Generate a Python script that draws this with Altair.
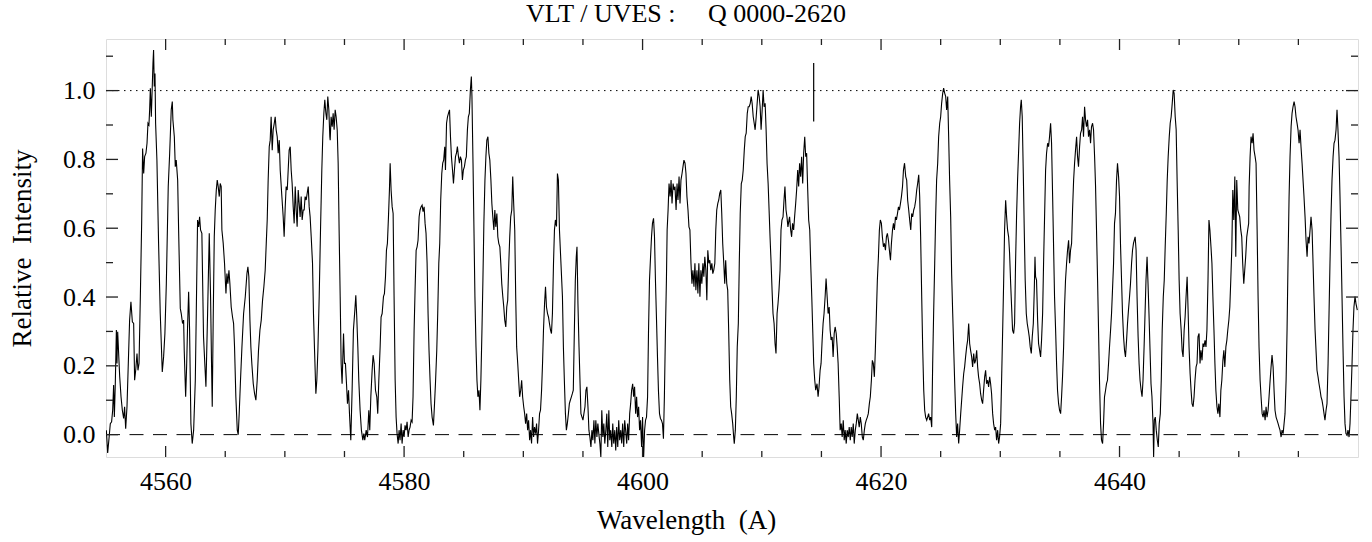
import altair as alt
import pandas as pd

# ---- spectrum: (wavelength [A], relative intensity) ----
seg1 = [(4555.03, 0.013), (4555.14, -0.053), (4555.25, -0.012), (4555.36, 0.032), (4555.47, 0.037),
        (4555.56, 0.071), (4555.64, 0.144), (4555.70, 0.051), (4555.78, 0.148), (4555.87, 0.304),
        (4555.92, 0.207), (4555.98, 0.299), (4556.06, 0.236), (4556.15, 0.168), (4556.26, 0.110),
        (4556.37, 0.071), (4556.48, 0.047), (4556.56, 0.081), (4556.65, 0.017), (4556.76, 0.081),
        (4556.87, 0.207), (4556.98, 0.333), (4557.09, 0.386), (4557.21, 0.328), (4557.32, 0.323),
        (4557.40, 0.158), (4557.49, 0.187), (4557.60, 0.236), (4557.68, 0.187), (4557.77, 0.207),
        (4557.88, 0.401), (4557.99, 0.614), (4558.07, 0.832), (4558.16, 0.759), (4558.24, 0.808),
        (4558.35, 0.818), (4558.44, 0.847), (4558.52, 0.905), (4558.60, 0.900), (4558.66, 0.944),
        (4558.72, 1.007), (4558.80, 0.924), (4558.88, 1.012), (4558.94, 1.080), (4558.99, 1.118),
        (4559.05, 1.012), (4559.11, 1.050), (4559.16, 0.905), (4559.27, 0.798), (4559.41, 0.556),
        (4559.55, 0.352), (4559.72, 0.182), (4559.83, 0.226), (4559.94, 0.294), (4560.06, 0.439),
        (4560.22, 0.721), (4560.34, 0.818), (4560.39, 0.866), (4560.47, 0.944), (4560.56, 0.968),
        (4560.61, 0.915), (4560.73, 0.866), (4560.81, 0.779), (4560.89, 0.798), (4561.01, 0.740),
        (4561.09, 0.595), (4561.23, 0.367), (4561.31, 0.352), (4561.42, 0.323), (4561.51, 0.333),
        (4561.56, 0.245), (4561.68, 0.110), (4561.76, 0.197), (4561.84, 0.313), (4561.93, 0.415),
        (4562.01, 0.304), (4562.12, 0.032), (4562.23, -0.026), (4562.35, 0.013), (4562.49, 0.158),
        (4562.57, 0.352), (4562.68, 0.624), (4562.77, 0.604), (4562.85, 0.633), (4562.93, 0.595),
        (4563.04, 0.585), (4563.18, 0.284), (4563.30, 0.197), (4563.38, 0.139), (4563.52, 0.352),
        (4563.66, 0.585), (4563.77, 0.401), (4563.85, 0.207), (4563.91, 0.081), (4563.99, 0.333),
        (4564.08, 0.575)]

seg2 = [(4564.16, 0.653), (4564.25, 0.711), (4564.33, 0.740), (4564.41, 0.721), (4564.50, 0.692),
        (4564.58, 0.730), (4564.66, 0.721), (4564.72, 0.595), (4564.83, 0.556), (4564.94, 0.498),
        (4565.06, 0.410), (4565.14, 0.468), (4565.22, 0.439), (4565.31, 0.478), (4565.39, 0.439),
        (4565.50, 0.371), (4565.61, 0.342), (4565.70, 0.323), (4565.78, 0.255), (4565.89, 0.110),
        (4566.01, 0.013), (4566.09, 0.000), (4566.17, 0.061), (4566.28, 0.158), (4566.40, 0.255),
        (4566.54, 0.352), (4566.68, 0.401), (4566.82, 0.468), (4566.90, 0.488), (4566.98, 0.459),
        (4567.07, 0.333), (4567.15, 0.255), (4567.23, 0.207), (4567.35, 0.148), (4567.46, 0.119),
        (4567.57, 0.100), (4567.68, 0.158), (4567.79, 0.245), (4567.91, 0.304), (4568.02, 0.333),
        (4568.13, 0.391), (4568.24, 0.430), (4568.35, 0.478), (4568.44, 0.556), (4568.52, 0.624),
        (4568.60, 0.740), (4568.69, 0.837), (4568.77, 0.856), (4568.85, 0.924), (4568.94, 0.827),
        (4569.02, 0.886), (4569.11, 0.905), (4569.19, 0.924), (4569.27, 0.886), (4569.36, 0.866),
        (4569.44, 0.818), (4569.53, 0.856), (4569.61, 0.769), (4569.75, 0.692), (4569.86, 0.633),
        (4569.94, 0.575), (4570.03, 0.662), (4570.11, 0.721), (4570.20, 0.711), (4570.28, 0.769),
        (4570.36, 0.827), (4570.45, 0.837), (4570.53, 0.769), (4570.61, 0.730), (4570.70, 0.662),
        (4570.78, 0.614), (4570.87, 0.721), (4570.95, 0.653), (4571.03, 0.604), (4571.12, 0.711),
        (4571.20, 0.672), (4571.28, 0.633), (4571.37, 0.692), (4571.45, 0.624), (4571.54, 0.653),
        (4571.62, 0.653), (4571.70, 0.692), (4571.79, 0.682), (4571.87, 0.701), (4571.96, 0.721),
        (4572.04, 0.662), (4572.12, 0.633), (4572.21, 0.575), (4572.32, 0.498), (4572.40, 0.352),
        (4572.49, 0.245), (4572.60, 0.119), (4572.68, 0.158), (4572.77, 0.245), (4572.88, 0.401),
        (4572.99, 0.595), (4573.10, 0.769), (4573.18, 0.866), (4573.27, 0.934), (4573.35, 0.973),
        (4573.44, 0.934), (4573.52, 0.915), (4573.60, 0.983), (4573.69, 0.944), (4573.77, 0.866)]

seg3 = [(4573.80, 0.856), (4573.88, 0.924), (4573.97, 0.895), (4574.05, 0.934), (4574.13, 0.886),
        (4574.22, 0.944), (4574.30, 0.924), (4574.39, 0.886), (4574.47, 0.789), (4574.55, 0.595),
        (4574.64, 0.401), (4574.72, 0.207), (4574.80, 0.148), (4574.92, 0.294), (4575.00, 0.207),
        (4575.08, 0.207), (4575.17, 0.148), (4575.25, 0.090), (4575.34, 0.129), (4575.42, 0.061),
        (4575.53, -0.016), (4575.64, 0.129), (4575.75, 0.304), (4575.87, 0.362), (4575.95, 0.405),
        (4576.03, 0.342), (4576.12, 0.255), (4576.20, 0.158), (4576.31, 0.071), (4576.42, 0.013),
        (4576.54, -0.016), (4576.62, 0.003), (4576.70, -0.016), (4576.82, 0.013), (4576.93, -0.007),
        (4577.04, 0.071), (4577.12, 0.013), (4577.21, 0.110), (4577.32, 0.187), (4577.40, 0.231),
        (4577.49, 0.207), (4577.60, 0.129), (4577.71, 0.110), (4577.79, 0.061), (4577.88, 0.158),
        (4577.99, 0.255), (4578.07, 0.342), (4578.16, 0.352), (4578.27, 0.401), (4578.35, 0.410),
        (4578.44, 0.459), (4578.52, 0.536), (4578.60, 0.556), (4578.69, 0.633), (4578.77, 0.711),
        (4578.83, 0.789), (4578.91, 0.711), (4579.00, 0.662), (4579.08, 0.643), (4579.16, 0.401),
        (4579.25, 0.158), (4579.33, 0.051), (4579.41, 0.003), (4579.50, -0.026), (4579.58, 0.013),
        (4579.66, -0.016), (4579.75, 0.032), (4579.83, -0.026), (4579.92, 0.013), (4580.00, -0.007),
        (4580.08, 0.027), (4580.17, 0.013), (4580.25, 0.037), (4580.34, -0.007), (4580.42, 0.013),
        (4580.50, 0.022), (4580.59, 0.042), (4580.67, 0.037), (4580.75, 0.110), (4580.84, 0.304),
        (4580.92, 0.420), (4581.01, 0.536), (4581.09, 0.546), (4581.17, 0.565), (4581.26, 0.633),
        (4581.34, 0.653), (4581.42, 0.662), (4581.51, 0.667), (4581.59, 0.648), (4581.68, 0.662),
        (4581.76, 0.614), (4581.84, 0.585), (4581.93, 0.498), (4582.01, 0.352), (4582.09, 0.245),
        (4582.18, 0.158), (4582.26, 0.090), (4582.35, 0.051), (4582.46, 0.027), (4582.54, 0.081),
        (4582.63, 0.148), (4582.74, 0.245), (4582.82, 0.352), (4582.91, 0.498), (4582.99, 0.556),
        (4583.07, 0.681), (4583.16, 0.759), (4583.24, 0.789), (4583.32, 0.798), (4583.41, 0.837)]

seg4 = [(4583.47, 0.769), (4583.56, 0.905), (4583.64, 0.924), (4583.72, 0.934), (4583.81, 0.944),
        (4583.89, 0.866), (4583.97, 0.808), (4584.06, 0.769), (4584.14, 0.730), (4584.22, 0.769),
        (4584.31, 0.808), (4584.39, 0.818), (4584.47, 0.837), (4584.56, 0.808), (4584.64, 0.789),
        (4584.72, 0.808), (4584.81, 0.798), (4584.89, 0.740), (4584.97, 0.769), (4585.06, 0.779),
        (4585.14, 0.798), (4585.22, 0.808), (4585.31, 0.886), (4585.39, 0.924), (4585.47, 0.934),
        (4585.56, 1.002), (4585.64, 1.041), (4585.69, 0.983), (4585.78, 0.789), (4585.86, 0.595),
        (4585.94, 0.401), (4586.03, 0.255), (4586.11, 0.158), (4586.19, 0.110), (4586.28, 0.129),
        (4586.36, 0.071), (4586.44, 0.158), (4586.53, 0.304), (4586.61, 0.449), (4586.69, 0.614),
        (4586.78, 0.740), (4586.86, 0.808), (4586.94, 0.856), (4587.03, 0.866), (4587.11, 0.818),
        (4587.19, 0.798), (4587.28, 0.740), (4587.36, 0.672), (4587.44, 0.633), (4587.53, 0.595),
        (4587.61, 0.653), (4587.69, 0.604), (4587.78, 0.643), (4587.86, 0.575), (4587.94, 0.556),
        (4588.03, 0.546), (4588.11, 0.498), (4588.19, 0.439), (4588.28, 0.401), (4588.36, 0.371),
        (4588.44, 0.333), (4588.53, 0.313), (4588.61, 0.371), (4588.69, 0.391), (4588.78, 0.498),
        (4588.86, 0.575), (4588.94, 0.633), (4589.03, 0.653), (4589.11, 0.750), (4589.19, 0.672),
        (4589.28, 0.595), (4589.36, 0.401), (4589.44, 0.255), (4589.53, 0.207), (4589.61, 0.158),
        (4589.69, 0.110), (4589.78, 0.129), (4589.86, 0.158), (4589.94, 0.110), (4590.03, 0.081),
        (4590.11, 0.061), (4590.19, 0.032), (4590.28, 0.061), (4590.36, 0.013), (4590.44, 0.042),
        (4590.53, -0.016), (4590.61, 0.013), (4590.69, -0.026), (4590.78, 0.051), (4590.86, -0.007),
        (4590.94, 0.022), (4591.03, 0.003), (4591.11, 0.032), (4591.19, -0.026), (4591.28, 0.013),
        (4591.36, 0.061), (4591.44, 0.071), (4591.53, 0.129), (4591.61, 0.207), (4591.69, 0.304),
        (4591.78, 0.381), (4591.86, 0.430), (4591.94, 0.371), (4592.03, 0.352), (4592.11, 0.342),
        (4592.19, 0.323), (4592.28, 0.304), (4592.36, 0.294), (4592.44, 0.352), (4592.53, 0.498),
        (4592.61, 0.595), (4592.69, 0.624), (4592.78, 0.605), (4592.86, 0.759), (4592.94, 0.740),
        (4593.03, 0.595)]

seg5 = [(4593.28, 0.401), (4593.36, 0.255), (4593.44, 0.158), (4593.53, 0.061), (4593.61, 0.013),
        (4593.69, 0.032), (4593.78, 0.061), (4593.86, 0.090), (4593.94, 0.100), (4594.03, 0.110),
        (4594.11, 0.119), (4594.19, 0.129), (4594.28, 0.304), (4594.36, 0.449), (4594.44, 0.517),
        (4594.50, 0.546), (4594.58, 0.381), (4594.67, 0.255), (4594.75, 0.158), (4594.83, 0.061),
        (4594.92, 0.051), (4595.00, 0.042), (4595.08, 0.061), (4595.17, 0.081), (4595.25, 0.129),
        (4595.33, 0.139), (4595.42, 0.081), (4595.50, 0.013), (4595.58, -0.007), (4595.67, -0.036),
        (4595.75, 0.013), (4595.83, -0.016), (4595.92, 0.042), (4596.00, -0.026), (4596.08, 0.042),
        (4596.17, -0.007), (4596.25, 0.032), (4596.33, 0.003), (4596.42, -0.026), (4596.50, -0.065),
        (4596.58, 0.071), (4596.67, -0.007), (4596.75, 0.032), (4596.83, -0.026), (4596.92, 0.013),
        (4597.00, 0.061), (4597.08, -0.036), (4597.17, 0.071), (4597.25, -0.016), (4597.33, 0.013),
        (4597.42, -0.036), (4597.50, 0.032), (4597.58, -0.026), (4597.67, 0.013), (4597.75, -0.046),
        (4597.83, 0.022), (4597.92, -0.036), (4598.00, 0.042), (4598.08, -0.016), (4598.17, 0.013),
        (4598.25, -0.026), (4598.33, 0.032), (4598.42, -0.036), (4598.50, 0.042), (4598.58, 0.013),
        (4598.67, -0.026), (4598.75, 0.032), (4598.83, -0.016), (4598.92, 0.061), (4599.00, 0.090),
        (4599.08, 0.129), (4599.17, 0.148), (4599.25, 0.110), (4599.33, 0.139), (4599.42, 0.061),
        (4599.50, 0.110), (4599.58, 0.051), (4599.67, 0.081), (4599.75, 0.013), (4599.83, 0.042),
        (4599.92, -0.036), (4600.00, 0.051), (4600.08, -0.075), (4600.17, 0.013), (4600.25, 0.042),
        (4600.33, 0.051), (4600.42, 0.110), (4600.50, 0.304), (4600.58, 0.449), (4600.67, 0.517),
        (4600.75, 0.575), (4600.83, 0.614), (4600.92, 0.629), (4601.00, 0.575), (4601.08, 0.449),
        (4601.17, 0.333), (4601.25, 0.226), (4601.33, 0.129), (4601.42, 0.061), (4601.50, 0.047),
        (4601.58, 0.042), (4601.67, 0.032), (4601.75, -0.012), (4601.83, 0.110), (4601.92, 0.304),
        (4602.00, 0.449), (4602.06, 0.595), (4602.14, 0.653), (4602.22, 0.730), (4602.31, 0.692),
        (4602.39, 0.740), (4602.47, 0.672), (4602.56, 0.730), (4602.64, 0.711)]

seg6 = [(4602.72, 0.721), (4602.81, 0.653), (4602.89, 0.730), (4602.97, 0.682), (4603.06, 0.750),
        (4603.14, 0.672), (4603.22, 0.740), (4603.31, 0.759), (4603.39, 0.779), (4603.47, 0.798),
        (4603.56, 0.789), (4603.64, 0.759), (4603.72, 0.692), (4603.81, 0.653), (4603.89, 0.604),
        (4603.97, 0.595), (4604.06, 0.498), (4604.14, 0.439), (4604.22, 0.478), (4604.31, 0.430),
        (4604.39, 0.498), (4604.47, 0.420), (4604.56, 0.478), (4604.64, 0.410), (4604.72, 0.498),
        (4604.81, 0.401), (4604.89, 0.478), (4604.97, 0.439), (4605.06, 0.498), (4605.14, 0.459),
        (4605.22, 0.517), (4605.31, 0.478), (4605.39, 0.391), (4605.47, 0.536), (4605.56, 0.498),
        (4605.64, 0.507), (4605.72, 0.478), (4605.81, 0.498), (4605.89, 0.468), (4605.97, 0.478),
        (4606.06, 0.498), (4606.14, 0.595), (4606.22, 0.653), (4606.31, 0.672), (4606.39, 0.682),
        (4606.47, 0.701), (4606.56, 0.711), (4606.64, 0.643), (4606.72, 0.556), (4606.81, 0.498),
        (4606.89, 0.439), (4606.97, 0.507), (4607.06, 0.439), (4607.14, 0.420), (4607.22, 0.304),
        (4607.31, 0.158), (4607.39, 0.081), (4607.47, 0.061), (4607.56, 0.032), (4607.64, -0.007),
        (4607.69, -0.026), (4607.78, 0.013), (4607.86, 0.110), (4607.94, 0.255), (4608.03, 0.323),
        (4608.11, 0.498), (4608.19, 0.643), (4608.28, 0.730), (4608.36, 0.740), (4608.44, 0.769),
        (4608.53, 0.827), (4608.61, 0.866), (4608.69, 0.876), (4608.78, 0.934), (4608.86, 0.953),
        (4608.94, 0.953), (4609.03, 0.963), (4609.11, 0.983), (4609.19, 0.963), (4609.28, 0.924),
        (4609.36, 0.905), (4609.44, 0.886), (4609.53, 0.924), (4609.61, 0.963), (4609.69, 1.002),
        (4609.78, 0.983), (4609.86, 0.953), (4609.94, 0.886), (4610.03, 0.944), (4610.11, 1.002),
        (4610.19, 0.953), (4610.28, 0.963), (4610.36, 0.886), (4610.44, 0.789), (4610.53, 0.730),
        (4610.61, 0.653), (4610.69, 0.575), (4610.78, 0.498), (4610.86, 0.420), (4610.94, 0.352),
        (4611.03, 0.323), (4611.11, 0.265), (4611.19, 0.236), (4611.28, 0.352), (4611.36, 0.381),
        (4611.44, 0.420), (4611.53, 0.478), (4611.61, 0.595), (4611.69, 0.624), (4611.78, 0.633),
        (4611.86, 0.681), (4611.94, 0.721), (4612.03, 0.653), (4612.11, 0.633), (4612.19, 0.604),
        (4612.28, 0.624)]

seg7 = [(4612.33, 0.633), (4612.42, 0.595), (4612.50, 0.575), (4612.58, 0.614), (4612.67, 0.595),
        (4612.75, 0.633), (4612.84, 0.672), (4612.92, 0.711), (4613.01, 0.769), (4613.09, 0.721),
        (4613.17, 0.789), (4613.26, 0.750), (4613.34, 0.808), (4613.43, 0.730), (4613.51, 0.818),
        (4613.60, 0.866), (4613.68, 0.808), (4613.76, 0.818), (4613.85, 0.711), (4613.93, 0.624),
        (4614.02, 0.595), (4614.10, 0.498), (4614.19, 0.401), (4614.27, 0.304), (4614.35, 0.207),
        (4614.44, 0.158), (4614.52, 0.129), (4614.63, 0.148), (4614.72, 0.110), (4614.80, 0.139),
        (4614.89, 0.187), (4614.97, 0.207), (4615.06, 0.275), (4615.14, 0.323), (4615.22, 0.352),
        (4615.31, 0.401), (4615.39, 0.454), (4615.48, 0.401), (4615.56, 0.352), (4615.65, 0.371),
        (4615.73, 0.304), (4615.81, 0.275), (4615.90, 0.284), (4615.98, 0.226), (4616.07, 0.294),
        (4616.15, 0.313), (4616.24, 0.294), (4616.32, 0.255), (4616.40, 0.207), (4616.49, 0.110),
        (4616.57, 0.013), (4616.66, 0.032), (4616.74, -0.007), (4616.83, 0.042), (4616.91, -0.016),
        (4616.99, 0.013), (4617.08, -0.026), (4617.16, 0.013), (4617.25, -0.007), (4617.33, 0.022),
        (4617.42, -0.016), (4617.50, 0.022), (4617.58, -0.007), (4617.67, 0.032), (4617.75, -0.026),
        (4617.84, 0.013), (4617.92, 0.032), (4618.01, 0.061), (4618.09, 0.042), (4618.17, 0.022),
        (4618.26, 0.051), (4618.34, 0.032), (4618.43, -0.007), (4618.51, -0.016), (4618.60, 0.013),
        (4618.68, 0.032), (4618.76, 0.042), (4618.85, 0.051), (4618.93, 0.061), (4619.02, 0.090),
        (4619.10, 0.110), (4619.19, 0.158), (4619.27, 0.216), (4619.35, 0.207), (4619.44, 0.168),
        (4619.52, 0.245), (4619.61, 0.352), (4619.69, 0.449), (4619.78, 0.517), (4619.86, 0.595),
        (4619.94, 0.624), (4620.03, 0.614), (4620.11, 0.575), (4620.20, 0.546), (4620.28, 0.556),
        (4620.37, 0.536), (4620.45, 0.575), (4620.53, 0.585), (4620.62, 0.565), (4620.70, 0.536),
        (4620.79, 0.507), (4620.87, 0.556), (4620.96, 0.595), (4621.04, 0.614), (4621.12, 0.595),
        (4621.21, 0.633), (4621.29, 0.624), (4621.38, 0.643), (4621.46, 0.662), (4621.54, 0.653),
        (4621.63, 0.672), (4621.71, 0.692), (4621.80, 0.721), (4621.88, 0.769), (4621.97, 0.789)]

seg8 = [(4622.07, 0.750), (4622.15, 0.740), (4622.23, 0.682), (4622.32, 0.653), (4622.40, 0.624),
        (4622.49, 0.595), (4622.57, 0.643), (4622.65, 0.633), (4622.74, 0.653), (4622.82, 0.662),
        (4622.91, 0.682), (4622.99, 0.711), (4623.07, 0.730), (4623.16, 0.755), (4623.24, 0.692),
        (4623.32, 0.575), (4623.41, 0.401), (4623.49, 0.255), (4623.58, 0.129), (4623.66, 0.071),
        (4623.74, 0.051), (4623.83, 0.042), (4623.91, 0.051), (4623.99, 0.061), (4624.08, 0.042),
        (4624.16, 0.051), (4624.25, 0.022), (4624.33, 0.207), (4624.41, 0.352), (4624.50, 0.498),
        (4624.58, 0.633), (4624.66, 0.740), (4624.75, 0.789), (4624.83, 0.866), (4624.92, 0.905),
        (4625.00, 0.924), (4625.08, 0.963), (4625.17, 0.992), (4625.25, 1.007), (4625.34, 0.992),
        (4625.42, 0.983), (4625.50, 0.944), (4625.59, 0.983), (4625.67, 0.866), (4625.75, 0.740),
        (4625.84, 0.633), (4625.92, 0.468), (4626.01, 0.352), (4626.09, 0.255), (4626.17, 0.158),
        (4626.26, 0.061), (4626.34, -0.007), (4626.42, 0.032), (4626.51, -0.026), (4626.59, 0.013),
        (4626.68, 0.061), (4626.76, 0.100), (4626.84, 0.139), (4626.93, 0.177), (4627.01, 0.197),
        (4627.09, 0.226), (4627.18, 0.255), (4627.26, 0.274), (4627.35, 0.323), (4627.43, 0.265),
        (4627.51, 0.245), (4627.60, 0.226), (4627.68, 0.197), (4627.77, 0.236), (4627.85, 0.207),
        (4627.93, 0.216), (4628.02, 0.245), (4628.10, 0.197), (4628.18, 0.168), (4628.27, 0.148),
        (4628.35, 0.119), (4628.44, 0.100), (4628.52, 0.090), (4628.60, 0.129), (4628.69, 0.168),
        (4628.77, 0.187), (4628.85, 0.148), (4628.94, 0.158), (4629.02, 0.139), (4629.11, 0.168),
        (4629.19, 0.148), (4629.27, 0.119), (4629.36, 0.061), (4629.44, 0.032), (4629.53, 0.013),
        (4629.61, 0.022), (4629.69, -0.016), (4629.78, 0.013), (4629.86, -0.026), (4629.94, -0.007),
        (4630.03, 0.032), (4630.11, 0.158), (4630.20, 0.304), (4630.28, 0.439), (4630.36, 0.595),
        (4630.45, 0.681), (4630.53, 0.633), (4630.61, 0.595), (4630.70, 0.575), (4630.78, 0.527),
        (4630.87, 0.439), (4630.95, 0.371), (4631.03, 0.304), (4631.12, 0.294), (4631.20, 0.323),
        (4631.28, 0.498), (4631.37, 0.643), (4631.45, 0.740), (4631.54, 0.827)]

seg9 = [(4631.62, 0.905), (4631.70, 0.953), (4631.76, 0.973), (4631.84, 0.924), (4631.93, 0.759),
        (4632.01, 0.595), (4632.09, 0.449), (4632.18, 0.352), (4632.26, 0.323), (4632.35, 0.304),
        (4632.43, 0.284), (4632.51, 0.255), (4632.60, 0.236), (4632.68, 0.284), (4632.77, 0.323),
        (4632.85, 0.420), (4632.91, 0.517), (4632.96, 0.459), (4633.04, 0.449), (4633.13, 0.333),
        (4633.21, 0.265), (4633.30, 0.245), (4633.38, 0.226), (4633.46, 0.274), (4633.55, 0.352),
        (4633.63, 0.498), (4633.72, 0.643), (4633.80, 0.769), (4633.88, 0.818), (4633.97, 0.847),
        (4634.05, 0.837), (4634.13, 0.866), (4634.22, 0.905), (4634.30, 0.847), (4634.39, 0.692),
        (4634.47, 0.546), (4634.55, 0.401), (4634.64, 0.304), (4634.72, 0.207), (4634.80, 0.129),
        (4634.89, 0.090), (4634.97, 0.071), (4635.06, 0.061), (4635.14, 0.110), (4635.22, 0.168),
        (4635.31, 0.255), (4635.39, 0.371), (4635.47, 0.449), (4635.56, 0.498), (4635.64, 0.536),
        (4635.73, 0.565), (4635.81, 0.498), (4635.89, 0.536), (4635.98, 0.556), (4636.06, 0.653),
        (4636.15, 0.740), (4636.23, 0.789), (4636.31, 0.827), (4636.40, 0.866), (4636.48, 0.808),
        (4636.56, 0.779), (4636.65, 0.837), (4636.73, 0.876), (4636.82, 0.886), (4636.90, 0.924),
        (4636.98, 0.866), (4637.07, 0.953), (4637.15, 0.915), (4637.23, 0.895), (4637.32, 0.915),
        (4637.40, 0.866), (4637.49, 0.886), (4637.57, 0.847), (4637.65, 0.895), (4637.74, 0.905),
        (4637.82, 0.886), (4637.91, 0.808), (4637.99, 0.721), (4638.07, 0.595), (4638.16, 0.449),
        (4638.24, 0.304), (4638.32, 0.158), (4638.41, 0.032), (4638.49, -0.016), (4638.58, -0.026),
        (4638.66, 0.032), (4638.74, 0.110), (4638.83, 0.129), (4638.91, 0.148), (4638.99, 0.158),
        (4639.08, 0.207), (4639.16, 0.255), (4639.25, 0.304), (4639.33, 0.352), (4639.41, 0.420),
        (4639.50, 0.498), (4639.58, 0.614), (4639.66, 0.643), (4639.75, 0.740), (4639.83, 0.789),
        (4639.92, 0.750), (4640.00, 0.692), (4640.08, 0.556), (4640.17, 0.449), (4640.25, 0.352),
        (4640.34, 0.284), (4640.42, 0.245), (4640.50, 0.226), (4640.59, 0.274), (4640.67, 0.323),
        (4640.75, 0.362), (4640.84, 0.401), (4640.92, 0.439), (4641.01, 0.498), (4641.09, 0.536),
        (4641.17, 0.556)]

seg10 = [(4641.31, 0.575), (4641.39, 0.536), (4641.47, 0.401), (4641.56, 0.284), (4641.64, 0.207),
         (4641.72, 0.158), (4641.81, 0.129), (4641.89, 0.110), (4641.97, 0.158), (4642.06, 0.255),
         (4642.14, 0.352), (4642.22, 0.449), (4642.31, 0.517), (4642.39, 0.439), (4642.47, 0.352),
         (4642.56, 0.245), (4642.64, 0.148), (4642.72, 0.110), (4642.81, 0.032), (4642.86, -0.065),
         (4642.92, 0.042), (4643.00, 0.051), (4643.08, 0.013), (4643.17, -0.016), (4643.25, -0.036),
         (4643.33, 0.032), (4643.42, 0.061), (4643.50, 0.158), (4643.58, 0.304), (4643.67, 0.401),
         (4643.75, 0.449), (4643.83, 0.546), (4643.92, 0.643), (4644.00, 0.740), (4644.08, 0.808),
         (4644.17, 0.866), (4644.25, 0.905), (4644.33, 0.924), (4644.42, 0.963), (4644.50, 1.002),
         (4644.58, 0.992), (4644.67, 0.924), (4644.75, 0.886), (4644.83, 0.740), (4644.92, 0.595),
         (4645.00, 0.449), (4645.08, 0.352), (4645.17, 0.304), (4645.25, 0.245), (4645.33, 0.226),
         (4645.42, 0.304), (4645.50, 0.342), (4645.58, 0.401), (4645.67, 0.459), (4645.75, 0.362),
         (4645.83, 0.255), (4645.92, 0.177), (4646.00, 0.129), (4646.08, 0.090), (4646.17, 0.081),
         (4646.25, 0.110), (4646.33, 0.158), (4646.42, 0.197), (4646.50, 0.207), (4646.58, 0.284),
         (4646.67, 0.294), (4646.75, 0.207), (4646.83, 0.245), (4646.92, 0.216), (4647.00, 0.265),
         (4647.08, 0.255), (4647.17, 0.274), (4647.25, 0.255), (4647.33, 0.304), (4647.42, 0.449),
         (4647.50, 0.624), (4647.58, 0.595), (4647.67, 0.546), (4647.75, 0.498), (4647.83, 0.401),
         (4647.92, 0.304), (4648.00, 0.207), (4648.08, 0.129), (4648.17, 0.081), (4648.25, 0.061),
         (4648.33, 0.090), (4648.42, 0.051), (4648.50, 0.129), (4648.58, 0.158), (4648.67, 0.216),
         (4648.75, 0.245), (4648.83, 0.197), (4648.92, 0.255), (4649.00, 0.274), (4649.08, 0.304),
         (4649.17, 0.333), (4649.25, 0.371), (4649.33, 0.449), (4649.42, 0.546), (4649.50, 0.711),
         (4649.58, 0.624), (4649.67, 0.750), (4649.75, 0.517), (4649.83, 0.740), (4649.92, 0.653),
         (4650.00, 0.643), (4650.08, 0.633), (4650.17, 0.595), (4650.25, 0.575), (4650.33, 0.498),
         (4650.42, 0.439), (4650.50, 0.478), (4650.58, 0.517), (4650.67, 0.575), (4650.75, 0.595),
         (4650.83, 0.614)]

seg11 = [(4650.87, 0.721), (4650.95, 0.808), (4651.03, 0.866), (4651.12, 0.847), (4651.20, 0.876),
         (4651.28, 0.827), (4651.37, 0.808), (4651.45, 0.789), (4651.54, 0.595), (4651.62, 0.401),
         (4651.70, 0.255), (4651.79, 0.158), (4651.87, 0.110), (4651.96, 0.061), (4652.04, 0.051),
         (4652.12, 0.071), (4652.21, 0.042), (4652.29, 0.081), (4652.37, 0.051), (4652.46, 0.071),
         (4652.54, 0.110), (4652.63, 0.158), (4652.71, 0.197), (4652.79, 0.231), (4652.88, 0.197),
         (4652.96, 0.129), (4653.04, 0.071), (4653.13, 0.051), (4653.21, 0.042), (4653.30, 0.032),
         (4653.38, 0.022), (4653.46, 0.013), (4653.55, -0.007), (4653.63, 0.013), (4653.72, 0.003),
         (4653.80, 0.032), (4653.88, 0.061), (4653.97, 0.158), (4654.05, 0.304), (4654.13, 0.498),
         (4654.22, 0.692), (4654.30, 0.808), (4654.39, 0.895), (4654.47, 0.934), (4654.55, 0.953),
         (4654.64, 0.968), (4654.72, 0.953), (4654.80, 0.924), (4654.89, 0.905), (4654.97, 0.886),
         (4655.06, 0.847), (4655.14, 0.886), (4655.22, 0.837), (4655.31, 0.789), (4655.39, 0.740),
         (4655.47, 0.692), (4655.56, 0.633), (4655.64, 0.566), (4655.73, 0.517), (4655.81, 0.575),
         (4655.89, 0.556), (4655.98, 0.595), (4656.06, 0.633), (4656.15, 0.595), (4656.23, 0.498),
         (4656.31, 0.401), (4656.40, 0.304), (4656.48, 0.245), (4656.56, 0.187), (4656.65, 0.168),
         (4656.73, 0.148), (4656.82, 0.129), (4656.90, 0.110), (4656.98, 0.100), (4657.07, 0.081),
         (4657.15, 0.061), (4657.23, 0.042), (4657.32, 0.071), (4657.40, 0.090), (4657.49, 0.207),
         (4657.57, 0.352), (4657.65, 0.498), (4657.74, 0.643), (4657.82, 0.740), (4657.91, 0.808),
         (4657.99, 0.847), (4658.07, 0.856), (4658.16, 0.886), (4658.24, 0.944), (4658.32, 0.886),
         (4658.41, 0.808), (4658.49, 0.692), (4658.58, 0.546), (4658.66, 0.401), (4658.74, 0.255),
         (4658.83, 0.110), (4658.91, 0.032), (4658.99, 0.003), (4659.08, -0.002), (4659.16, 0.013),
         (4659.25, -0.007), (4659.33, 0.032), (4659.41, 0.110), (4659.50, 0.207), (4659.58, 0.304),
         (4659.66, 0.371), (4659.75, 0.401), (4659.83, 0.381), (4659.94, 0.362)]

segments = [seg1, seg2, seg3, seg4, seg5, seg6, seg7, seg8, seg9, seg10, seg11]

# short vertical marker above the continuum
marker_wl = [4614.35]
marker_lo = [0.91]
marker_hi = [1.08]

# axis ticks
x_major = [4560, 4580, 4600, 4620, 4640]
x_minor = [4565, 4570, 4575, 4585, 4590, 4595, 4605, 4610, 4615, 4625, 4630, 4635, 4645, 4650, 4655]
y_major = [0.0, 0.2, 0.4, 0.6, 0.8, 1.0]
y_minor = [0.1, 0.3, 0.5, 0.7, 0.9, 1.1]

title_text = ["VLT / UVES :\u00a0\u00a0\u00a0\u00a0\u00a0Q 0000-2620"]

X_DOMAIN = [4555, 4660]
Y_DOMAIN = [-0.065, 1.15]
W, H = 1252, 418
FONT = "Liberation Serif"
FRAME = "#222222"

spec = pd.DataFrame({"wl": [p[0] for s in segments for p in s],
                     "flux": [p[1] for s in segments for p in s]})

xs = alt.Scale(domain=X_DOMAIN, nice=False, zero=False)
ys = alt.Scale(domain=Y_DOMAIN, nice=False, zero=False)

x_axis = alt.Axis(values=x_major, format="d", ticks=False, domain=False, grid=False,
                  labelFont=FONT, labelFontSize=26, labelColor="black", labelPadding=11,
                  title="Wavelength\u00a0\u00a0(A)", titleFont=FONT, titleFontSize=27,
                  titleFontWeight="normal", titleColor="black", titleX=580, titleY=63,
                  titleAlign="center", titleBaseline="middle")
y_axis = alt.Axis(values=y_major, format=".1f", ticks=False, domain=False, grid=False,
                  labelFont=FONT, labelFontSize=26, labelColor="black", labelPadding=11,
                  title="Relative\u00a0\u00a0Intensity", titleFont=FONT, titleFontSize=27,
                  titleFontWeight="normal", titleColor="black", titleX=-84, titleY=H / 2,
                  titleAngle=270, titleAlign="center", titleBaseline="middle")

line = alt.Chart(spec).mark_line(color="black", strokeWidth=1.1, clip=True).encode(
    x=alt.X("wl:Q", scale=xs, axis=x_axis),
    y=alt.Y("flux:Q", scale=ys, axis=y_axis),
)

unity = alt.Chart(pd.DataFrame({"flux": [1.0]})).mark_rule(
    color="black", strokeWidth=1, strokeDash=[1.5, 4.5]).encode(
    y=alt.Y("flux:Q", scale=ys), x=alt.value(0), x2=alt.value(W))
zero = alt.Chart(pd.DataFrame({"flux": [0.0]})).mark_rule(
    color="black", strokeWidth=1, strokeDash=[14, 9.5]).encode(
    y=alt.Y("flux:Q", scale=ys), x=alt.value(0), x2=alt.value(W))

marker = alt.Chart(pd.DataFrame({"wl": marker_wl, "flux": marker_lo, "hi": marker_hi})).mark_rule(
    color="black", strokeWidth=1.2).encode(
    x=alt.X("wl:Q", scale=xs), y=alt.Y("flux:Q", scale=ys), y2="hi:Q")

title = alt.Chart(pd.DataFrame({"t": title_text})).mark_text(
    font=FONT, fontSize=26, color="black", align="center", baseline="middle").encode(
    text="t:N", x=alt.value(580), y=alt.value(-25))

def xticks(vals, y0, y1):
    return alt.Chart(pd.DataFrame({"wl": vals})).mark_rule(color=FRAME, strokeWidth=1.3).encode(
        x=alt.X("wl:Q", scale=xs), y=alt.value(y0), y2=alt.value(y1))

def yticks(vals, x0, x1):
    return alt.Chart(pd.DataFrame({"flux": vals})).mark_rule(color=FRAME, strokeWidth=1.3).encode(
        y=alt.Y("flux:Q", scale=ys), x=alt.value(x0), x2=alt.value(x1))

ticks = [
    xticks(x_major, H, H - 11), xticks(x_major, 0, 11),
    xticks(x_minor, H, H - 6), xticks(x_minor, 0, 6),
    yticks(y_major, 0, 12), yticks(y_major, W, W - 12),
    yticks(y_minor, 0, 7), yticks(y_minor, W, W - 7),
]

chart = alt.layer(unity, zero, line, marker, title, *ticks).properties(
    width=W, height=H,
    autosize=alt.AutoSizeParams(type="none"),
    padding={"left": 106, "top": 39, "right": 14, "bottom": 85},
).configure_view(stroke=FRAME, strokeWidth=1.6).configure(background="white")

chart.save("out.html", embed_options={"renderer": "svg", "actions": False})
